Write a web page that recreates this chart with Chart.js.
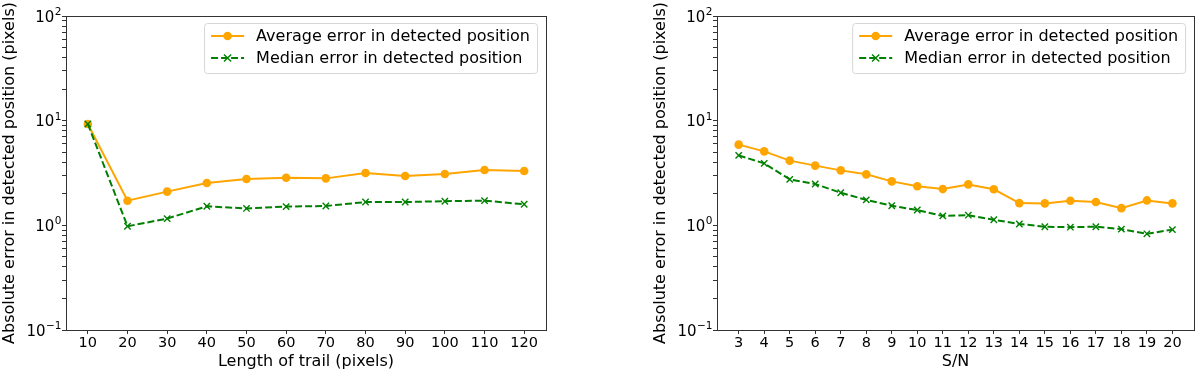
<!DOCTYPE html>
<html>
<head>
<meta charset="utf-8">
<script src="https://cdn.jsdelivr.net/npm/chart.js@4"></script>
<style>
  body { margin: 0; background: #fff; }
  #wrap { position: relative; width: 1200px; height: 372px; }
  canvas { position: absolute; top: 0; }
</style>
</head>
<body>
<div id="wrap">
  <canvas id="trail" width="560" height="372" style="left:0"></canvas>
  <canvas id="snr" width="600" height="372" style="left:600px"></canvas>
</div>
<script>
// left panel: error vs trail length
const trailLengths = [10, 20, 30, 40, 50, 60, 70, 80, 90, 100, 110, 120];
const trailAvg = [9.3, 1.72, 2.10, 2.54, 2.77, 2.85, 2.81, 3.16, 2.96, 3.09, 3.38, 3.30];
const trailMedian = [9.3, 0.98, 1.16, 1.52, 1.45, 1.51, 1.53, 1.67, 1.67, 1.70, 1.72, 1.59];

// right panel: error vs S/N
const snrValues = [3, 4, 5, 6, 7, 8, 9, 10, 11, 12, 13, 14, 15, 16, 17, 18, 19, 20];
const snrAvg = [5.90, 5.09, 4.15, 3.72, 3.35, 3.07, 2.63, 2.36, 2.22, 2.46, 2.21, 1.63, 1.62, 1.72, 1.67, 1.46, 1.73, 1.62];
const snrMedian = [4.66, 3.91, 2.75, 2.48, 2.05, 1.75, 1.54, 1.40, 1.23, 1.25, 1.13, 1.03, 0.97, 0.96, 0.97, 0.92, 0.83, 0.91];

// log axis labels: base "10" with exponent
const yMajor = [0.1, 1, 10, 100];
const yExponents = ['\u22121', '0', '1', '2'];
const seriesNames = ['Average error in detected position', 'Median error in detected position'];
const yTitle = 'Absolute error in detected position (pixels)';

Chart.defaults.font.family = 'DejaVu Sans';
Chart.defaults.font.size = 14.5;
Chart.defaults.color = '#000';

// all ticks of the log axis: majors plus 2..9 in each decade
const yTicks = [];
for (let i = 0; i < yMajor.length; i++) {
    yTicks.push(yMajor[i]);
    if (i < yMajor.length - 1) {
        for (let k = 2; k <= 9; k++) yTicks.push(+(yMajor[i] * k).toFixed(3));
    }
}

const frameAndLegend = {
    id: 'frameAndLegend',
    afterDraw(chart) {
        const ctx = chart.ctx;
        const a = chart.chartArea;
        const ys = chart.scales.y;
        ctx.save();
        ctx.strokeStyle = '#333';
        ctx.lineWidth = 1;
        ctx.strokeRect(Math.round(a.left) + 0.5, Math.round(a.top) + 0.5,
            Math.round(a.right - a.left), Math.round(a.bottom - a.top));

        // y labels like mathtext 10^n
        ctx.fillStyle = '#000';
        ctx.textAlign = 'right';
        ctx.textBaseline = 'alphabetic';
        yMajor.forEach((v, i) => {
            const py = ys.getPixelForValue(v);
            const right = a.left - 4.5;
            ctx.font = '10.5px "DejaVu Sans"';
            const ew = ctx.measureText(yExponents[i]).width;
            ctx.fillText(yExponents[i], right, py - 1);
            ctx.font = '15px "DejaVu Sans"';
            ctx.fillText('10', right - ew - 0.5, py + 5.5);
        });
        ctx.textAlign = 'left';

        // matplotlib-like legend, upper right
        ctx.font = '16px "DejaVu Sans"';
        const textW = Math.max(...seriesNames.map(s => ctx.measureText(s).width));
        const w = 52 + textW + 7;
        const h = 50;
        const x = a.right - 9 - w;
        const y = a.top + 7;
        ctx.beginPath();
        ctx.roundRect(x + 0.5, y + 0.5, w, h, 3);
        ctx.fillStyle = 'rgba(255,255,255,0.8)';
        ctx.fill();
        ctx.strokeStyle = '#d6d6d6';
        ctx.stroke();

        chart.data.datasets.forEach((ds, i) => {
            const cy = y + 13 + i * 22;
            ctx.strokeStyle = ds.borderColor;
            ctx.lineWidth = 2;
            ctx.setLineDash(ds.borderDash || []);
            ctx.beginPath();
            ctx.moveTo(x + 7, cy);
            ctx.lineTo(x + 40, cy);
            ctx.stroke();
            ctx.setLineDash([]);
            const mx = x + 23.5;
            if (ds.pointStyle === 'circle') {
                ctx.fillStyle = ds.pointBackgroundColor;
                ctx.beginPath();
                ctx.arc(mx, cy, ds.pointRadius, 0, Math.PI * 2);
                ctx.fill();
            } else {
                const r = ds.pointRadius * 0.8;
                ctx.lineWidth = ds.pointBorderWidth;
                ctx.beginPath();
                ctx.moveTo(mx - r, cy - r); ctx.lineTo(mx + r, cy + r);
                ctx.moveTo(mx - r, cy + r); ctx.lineTo(mx + r, cy - r);
                ctx.stroke();
            }
            ctx.fillStyle = '#000';
            ctx.textBaseline = 'middle';
            ctx.fillText(seriesNames[i], x + 52, cy + 1);
        });
        ctx.restore();
    }
};

function makeChart(id, xs, avg, med, xTitle, padLeft, padRight) {
    const span = xs[xs.length - 1] - xs[0];
    new Chart(document.getElementById(id), {
        type: 'line',
        data: {
            datasets: [
                {
                    label: seriesNames[0],
                    data: xs.map((v, i) => ({ x: v, y: avg[i] })),
                    borderColor: '#FFA500',
                    borderWidth: 2,
                    pointStyle: 'circle',
                    pointRadius: 4.3,
                    pointBackgroundColor: '#FFA500',
                    pointBorderColor: '#FFA500',
                    pointBorderWidth: 0,
                    order: 1
                },
                {
                    label: seriesNames[1],
                    data: xs.map((v, i) => ({ x: v, y: med[i] })),
                    borderColor: '#008000',
                    borderWidth: 2,
                    borderDash: [7, 3],
                    pointStyle: 'crossRot',
                    pointRadius: 4.5,
                    pointBorderColor: '#008000',
                    pointBackgroundColor: '#008000',
                    pointBorderWidth: 1.4,
                    order: 0
                }
            ]
        },
        options: {
            responsive: false,
            animation: false,
            layout: { padding: { top: 16, left: padLeft, right: padRight, bottom: 0 } },
            plugins: { legend: { display: false }, tooltip: { enabled: false } },
            scales: {
                x: {
                    type: 'linear',
                    min: xs[0] - 0.05 * span,
                    max: xs[xs.length - 1] + 0.05 * span,
                    afterBuildTicks: s => { s.ticks = xs.map(v => ({ value: v })); },
                    afterFit: s => { s.height = 42; },
                    border: { display: false },
                    grid: { drawOnChartArea: false, tickLength: 4, tickColor: '#333' },
                    ticks: { padding: 1, maxRotation: 0, autoSkip: false, callback: v => String(v) },
                    title: { display: true, text: xTitle, font: { size: 16 }, padding: { top: 0, bottom: 1 } }
                },
                y: {
                    type: 'logarithmic',
                    min: 0.1,
                    max: 100,
                    afterBuildTicks: s => {
                        s.ticks = yTicks.map(v => ({ value: v, major: yMajor.includes(v) }));
                    },
                    afterFit: s => { s.width = 66; },
                    border: { display: false },
                    grid: { drawOnChartArea: false, tickLength: 4, tickColor: '#333' },
                    ticks: { padding: 0, autoSkip: false, callback: () => '' },
                    title: { display: true, text: yTitle, font: { size: 16 }, padding: 0 }
                }
            }
        },
        plugins: [frameAndLegend]
    });
}

makeChart('trail', trailLengths, trailAvg, trailMedian, 'Length of trail (pixels)', 0, 14);
makeChart('snr', snrValues, snrAvg, snrMedian, 'S/N', 51, 3);
</script>
</body>
</html>
